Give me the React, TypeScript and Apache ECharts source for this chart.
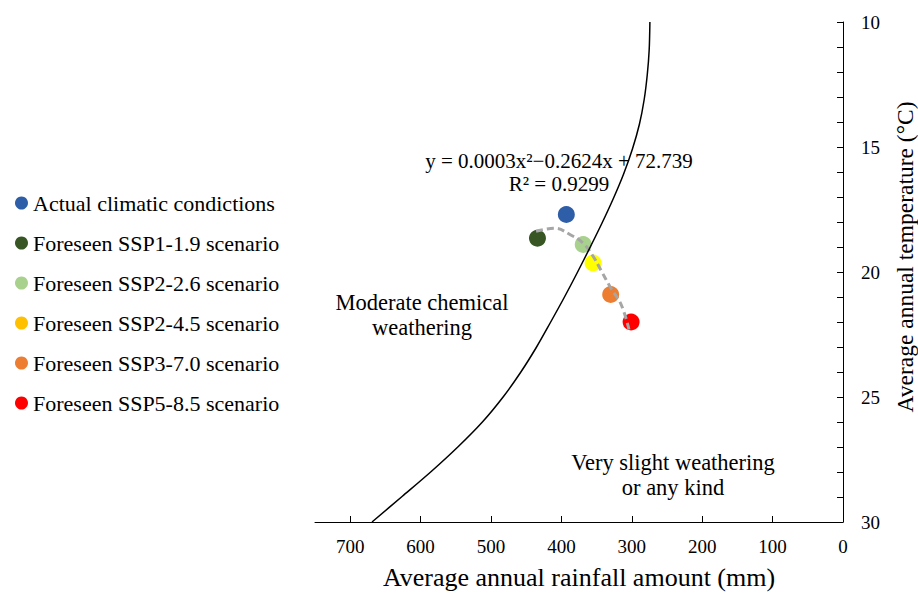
import React, { useEffect, useRef } from "react";
import * as echarts from "echarts";

const FONT = '"Liberation Serif", "Times New Roman", serif';

const seriesNames = [
  "Actual climatic condictions",
  "Foreseen SSP1-1.9 scenario",
  "Foreseen SSP2-2.6 scenario",
  "Foreseen SSP2-4.5 scenario",
  "Foreseen SSP3-7.0 scenario",
  "Foreseen SSP5-8.5 scenario",
];
const pointColors = ["#2f5ea8", "#375623", "#a9d18e", "#ffff00", "#ed7d31", "#ff0000"];
const legendColors = ["#2f5ea8", "#375623", "#a9d18e", "#ffc000", "#ed7d31", "#ff0000"];
const scatterRain = [393, 434, 369, 355, 330, 301];
const scatterTemp = [17.7, 18.65, 18.9, 19.64, 20.9, 22.0];

const trendRain = [436, 410, 386, 369, 355, 344, 330, 315, 304];
const trendTemp = [18.37, 18.25, 18.53, 18.85, 19.37, 19.92, 20.63, 21.31, 22.3];

const boundaryRain = [274.3, 275.3, 278.0, 282.4, 289.2, 299.1, 311.5, 326.2, 342.6, 359.9, 377.9, 396.4, 415.6, 435.7, 457.8, 482.8, 511.9, 546.4, 584.9, 625.9, 669.0];
const boundaryTemp = [10.0, 11.11, 12.1, 13.1, 14.09, 15.08, 16.07, 17.06, 18.06, 19.05, 20.05, 21.04, 22.02, 23.02, 24.01, 25.0, 25.99, 26.98, 27.98, 28.97, 30.0];

const xTicks = [0, 100, 200, 300, 400, 500, 600, 700];
const yTicks = [10, 15, 20, 25, 30];

export default function App() {
  const ref = useRef<HTMLDivElement>(null);
  useEffect(() => {
    if (!ref.current) return;
    const chart = echarts.init(ref.current, null, { renderer: "svg" });
    const scatterSeries = seriesNames.map((name, i) => ({
      name,
      type: "scatter",
      symbol: "circle",
      symbolSize: 17,
      z: 2,
      itemStyle: { color: pointColors[i], opacity: 1 },
      data: [[scatterRain[i], scatterTemp[i]]],
    }));
    chart.setOption({
      animation: false,
      backgroundColor: "#ffffff",
      textStyle: { fontFamily: FONT },
      grid: { left: 315, right: 75, top: 22, bottom: 69 },
      legend: {
        orient: "vertical",
        left: 10,
        top: 187,
        itemWidth: 13,
        itemHeight: 13,
        itemGap: 18,
        icon: "circle",
        textStyle: { fontFamily: FONT, fontSize: 22, color: "#000" },
        data: seriesNames.map((n, i) => ({ name: n, itemStyle: { color: legendColors[i] } })),
      },
      xAxis: {
        type: "value",
        min: 0,
        max: 750,
        inverse: true,
        position: "bottom",
        name: "Average annual rainfall amount (mm)",
        nameLocation: "middle",
        nameGap: 42,
        nameTextStyle: { fontFamily: FONT, fontSize: 26, color: "#000" },
        axisLine: { show: true, lineStyle: { color: "#000", width: 1 } },
        axisTick: { show: true, inside: true, length: 6, customValues: xTicks, lineStyle: { color: "#000" } },
        axisLabel: { customValues: xTicks, margin: 15, fontFamily: FONT, fontSize: 19, color: "#000" },
        splitLine: { show: false },
      },
      yAxis: {
        type: "value",
        min: 10,
        max: 30,
        interval: 1,
        inverse: true,
        position: "right",
        axisLine: { show: true, lineStyle: { color: "#000", width: 1 } },
        axisTick: { show: true, inside: true, length: 6, lineStyle: { color: "#000" } },
        axisLabel: {
          customValues: yTicks,
          margin: 18,
          fontFamily: FONT,
          fontSize: 19,
          color: "#000",
        },
        splitLine: { show: false },
      },
      graphic: [
        {
          type: "text",
          x: 905,
          y: 257,
          rotation: Math.PI / 2,
          style: {
            text: "Average annual temperature (°C)",
            fontFamily: FONT,
            fontSize: 23.5,
            fill: "#000",
            textAlign: "center",
            textVerticalAlign: "middle",
          },
        },
        {
          type: "text",
          x: 559,
          y: 172,
          style: {
            text: "y = 0.0003x²−0.2624x + 72.739\nR² = 0.9299",
            fontFamily: FONT,
            fontSize: 21,
            lineHeight: 23,
            fill: "#000",
            textAlign: "center",
            textVerticalAlign: "middle",
          },
        },
        {
          type: "text",
          x: 422,
          y: 315,
          style: {
            text: "Moderate chemical\nweathering",
            fontFamily: FONT,
            fontSize: 22.5,
            lineHeight: 25,
            fill: "#000",
            textAlign: "center",
            textVerticalAlign: "middle",
          },
        },
        {
          type: "text",
          x: 673,
          y: 475,
          style: {
            text: "Very slight weathering\nor any kind",
            fontFamily: FONT,
            fontSize: 22.5,
            lineHeight: 25,
            fill: "#000",
            textAlign: "center",
            textVerticalAlign: "middle",
          },
        },
      ],
      series: [
        ...scatterSeries,
        {
          name: "trend",
          type: "line",
          smooth: 0.4,
          symbol: "none",
          z: 3,
          lineStyle: { color: "#a6a6a6", width: 3, type: [7, 4] },
          data: trendRain.map((r, i) => [r, trendTemp[i]]),
        },
        {
          name: "boundary",
          type: "line",
          smooth: 0.3,
          symbol: "none",
          z: 4,
          lineStyle: { color: "#000", width: 1.5 },
          data: boundaryRain.map((r, i) => [r, boundaryTemp[i]]),
        },
      ],
    });
    return () => chart.dispose();
  }, []);
  return (
    <div
      ref={ref}
      style={{ position: "fixed", left: 0, top: 0, width: 918, height: 595, background: "#fff" }}
    />
  );
}
